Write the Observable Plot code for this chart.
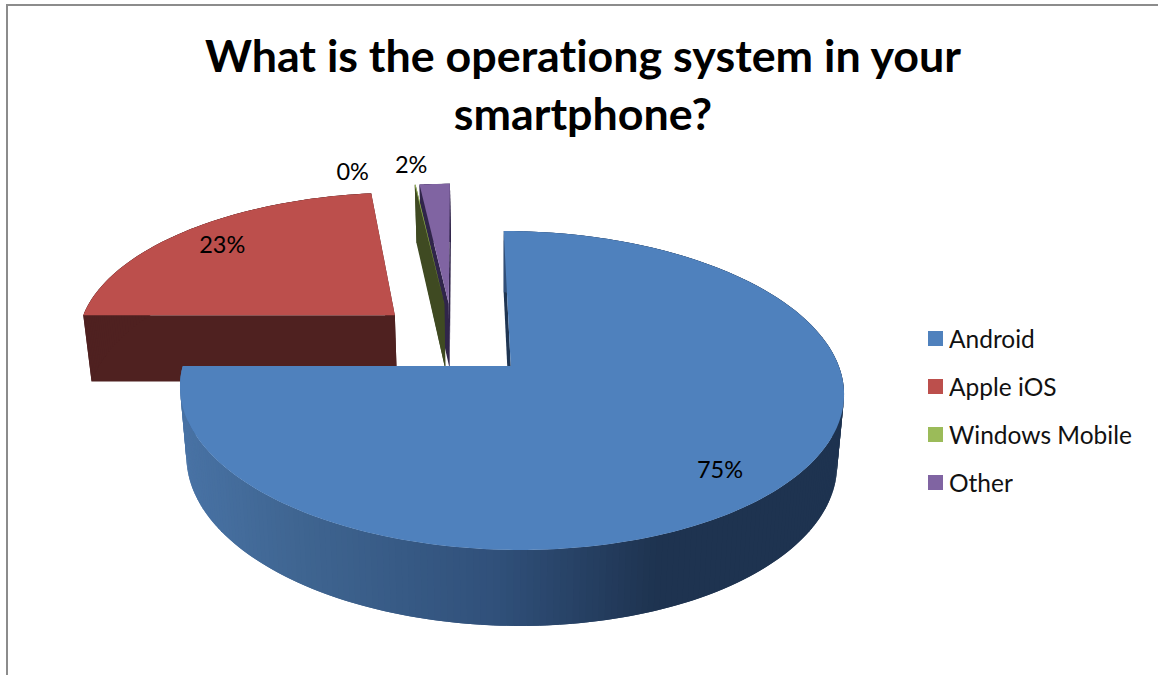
<!DOCTYPE html>
<html>
<head>
<meta charset="utf-8">
<script src="https://cdn.jsdelivr.net/npm/d3@7"></script>
<script src="https://cdn.jsdelivr.net/npm/@observablehq/plot@0.6"></script>
<style>
  html, body { margin: 0; padding: 0; background: #fff; }
  #figure { position: relative; width: 1158px; height: 675px; overflow: hidden; font-family: Lato, "Open Sans", sans-serif; font-variant-ligatures: none; }
  #figure svg { position: absolute; left: 0; top: 0; }
  #frame { position: absolute; left: 6px; top: 4px; width: 1160px; height: 680px; border-top: 2px solid #8c8c8c; border-left: 2px solid #8c8c8c; }
  #title { position: absolute; left: 0; top: 26px; width: 1166px; text-align: center; font-size: 44.8px; line-height: 58px; font-weight: 700; color: #000; }
  #legend { position: absolute; left: 928px; top: 314px; width: 230px; }
  #legend .os-swatch { display: flex; align-items: center; height: 48px; padding: 0; margin: 0; font-size: 24.5px; color: #111; font-family: Lato, "Open Sans", sans-serif; }
  #legend .os-swatch svg { position: static; margin-right: 6px; }
</style>
</head>
<body>
<div id="figure">
  <div id="frame"></div>
  <div id="title">What is the operationg system in your<br>smartphone?</div>
  <div id="legend"></div>
</div>
<script>
// Survey shares, in percent
const systems = ["Android", "Apple iOS", "Windows Mobile", "Other"];
const shares = [75.0, 23.15, 0.05, 1.8];
const topColors = ["#4f81bd", "#bc4f4c", "#9bbb59", "#8064a2"];
const wallColors = ["#1f3552", "#4f2120", "#3f4a22", "#30254a"];
const labelRadius = [0.826, 0.82, 1.175, 1.19];
const labelTurn = [2.1, -0.3, -11, -4];
const drawOrder = [1, 3, 2, 0];

// Perspective camera for the tilted, exploded pie
const view = {cx: 510.75, cy: 366, radius: 328, tilt: 155.7, persp: 0.1536, shear: 0.052,
               depthNear: 68.65, depthSlope: -7.35, squeeze: 0.02, vanishX: 500, explode: 0.25};

// Maps pie-plane coordinates to the chart's x/y; lower = true gives the base of the disc.
function project(X, Y, lower = false) {
  const s = 1 / (1 + view.persp * Y);
  const dy = -Y * view.tilt * s;
  let x = view.cx + X * view.radius * s + view.shear * dy;
  let y = view.cy + dy;
  if (lower) {
    x -= (x - view.vanishX) * view.squeeze;
    y += view.depthNear + view.depthSlope * Y;
  }
  return [x, y];
}

const rad = (d) => d * Math.PI / 180;
const total = d3.sum(shares);
let turned = 0;
const slices = shares.map((v, i) => {
  const a0 = turned;
  turned += v / total * 360;
  return {i, a0, a1: turned, mid: (a0 + turned) / 2, value: v};
});

// Centre of the whole pie: each slice is pushed outward from here along its bisector.
const origin = {X: -view.explode * Math.SQRT1_2, Y: view.explode * Math.SQRT1_2};
const apexOf = (s) => ({
  X: origin.X + view.explode * Math.sin(rad(s.mid)),
  Y: origin.Y + view.explode * Math.cos(rad(s.mid))
});
const rimPoint = (s, a, r = 1) => {
  const o = apexOf(s);
  return {X: o.X + r * Math.sin(rad(a)), Y: o.Y + r * Math.cos(rad(a))};
};

// Side shading of the large slice runs from mid blue on the left to navy on the right
const wallShade = d3.scaleLinear()
  .domain([185, 300, 500, 660, 850])
  .range(["#4872a4", "#3f6591", "#30507a", "#1e3350", "#1e3350"])
  .clamp(true);

const rows = [];
let part = 0;
function quad(points, fill) {
  part++;
  for (const p of points) rows.push({...p, part, fill});
}
function wallStrip(p, q) {
  const [ax, ay] = project(p.X, p.Y);
  const [bx, by] = project(p.X, p.Y, true);
  const [cx, cy] = project(q.X, q.Y);
  const [dx, dy] = project(q.X, q.Y, true);
  return [{x1: ax, y1: ay, x2: bx, y2: by}, {x1: cx, y1: cy, x2: dx, y2: dy}];
}
for (const idx of drawOrder) {
  const s = slices[idx];
  const steps = Math.max(1, Math.ceil(s.a1 - s.a0));
  const angles = d3.range(steps + 1).map((k) => s.a0 + (s.a1 - s.a0) * k / steps);
  const a = apexOf(s);

  // radial side walls
  for (const edge of [s.a1, s.a0]) quad(wallStrip(a, rimPoint(s, edge)), wallColors[idx]);

  // curved outer wall; each strip overlaps the next so no seams show between them
  for (let k = 0; k < steps; k++) {
    const strip = wallStrip(rimPoint(s, angles[k]), rimPoint(s, angles[Math.min(k + 2, steps)]));
    const fill = idx === 0 ? wallShade(strip[0].x1) : wallColors[idx];
    quad(strip, fill);
  }

  // top face, fanned from the apex
  const [ox, oy] = project(a.X, a.Y);
  quad(angles.map((t) => {
    const p = rimPoint(s, t);
    const [x1, y1] = project(p.X, p.Y);
    return {x1, y1, x2: ox, y2: oy};
  }), topColors[idx]);
}

// Percentage labels placed along each slice's bisector
const labels = slices.map((s) => {
  const p = rimPoint(s, s.mid + labelTurn[s.i], labelRadius[s.i]);
  const [x, y] = project(p.X, p.Y);
  return {x, y, text: `${Math.round(s.value)}%`};
});

const chart = Plot.plot({
  width: 1158,
  height: 675,
  margin: 0,
  x: {domain: [0, 1158], axis: null},
  y: {domain: [675, 0], axis: null},
  color: {type: "identity"},
  style: {background: "transparent"},
  marks: [
    Plot.area(rows, {x1: "x1", y1: "y1", x2: "x2", y2: "y2", z: "part", fill: "fill"}),
    Plot.text(labels, {x: "x", y: "y", text: "text", fontSize: 23.5, fontFamily: "Lato, 'Open Sans', sans-serif", fill: "#000"})
  ]
});
document.getElementById("figure").appendChild(chart);

const key = Plot.legend({
  color: {type: "ordinal", domain: systems, range: topColors},
  legend: "swatches",
  columns: 1,
  swatchSize: 15,
  className: "os"
});
document.getElementById("legend").appendChild(key);
</script>
</body>
</html>
